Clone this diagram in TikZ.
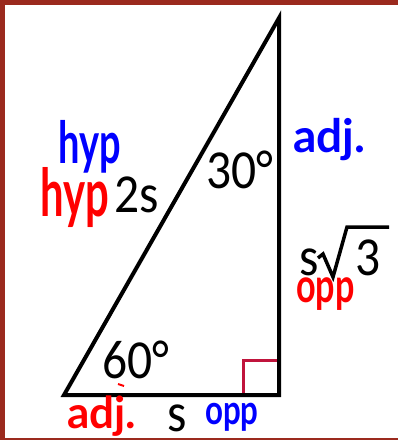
\documentclass[tikz,border=0pt]{standalone}
\usepackage{fontspec}
\setmainfont{Carlito}
\newfontfamily\handfont{Lato}
\definecolor{framered}{RGB}{155,42,30}
\definecolor{sqred}{RGB}{192,20,60}
\definecolor{inkblue}{RGB}{0,0,255}
\definecolor{inkred}{RGB}{255,0,0}
\newcommand{\blk}[1]{\scalebox{0.9}[1]{\fontsize{55}{60}\selectfont #1}}
\newcommand{\hnd}[4]{\scalebox{#2}[#3]{\handfont\bfseries\fontsize{#1}{#1}\selectfont #4}}
\begin{document}
\begin{tikzpicture}[x=1pt,y=-1pt,
  lbl/.style={anchor=base west,inner sep=0pt},
  hand/.style={anchor=base west,inner sep=0pt},
  side/.style={line width=4pt,line join=miter},
]
\useasboundingbox (0,0) rectangle (398,440);
\fill[white] (0,0) rectangle (398,440);
% frame
\fill[framered] (0,0) rectangle (398,5);
\fill[framered] (0,0) rectangle (5,440);
\fill[framered] (0,438) rectangle (398,440);
% triangle
\coordinate (A) at (64,395);
\coordinate (B) at (279,395);
\coordinate (C) at (279,18);
\draw[side] (A) -- (B) -- (C) -- cycle;
% right angle mark
\coordinate (S1) at (243,393);
\coordinate (S2) at (243,360);
\coordinate (S3) at (277,360);
\draw[sqred,line width=3pt] (S1) -- (S2) -- (S3);
% black labels
\node[lbl] (two) at (114,212) {\blk{2s}};
\node[lbl] (thirty) at (206,188) {\blk{30°}};
\node[lbl] (sixty) at (102,378) {\blk{60°}};
\node[lbl] (bs) at (167,431) {\blk{s}};
\node[lbl] (rs) at (299,275) {\blk{s}};
\node[lbl] (three) at (355,275) {\blk{3}};
\coordinate (R1) at (318,258);
\coordinate (R2) at (323,254);
\coordinate (R3) at (333,277);
\coordinate (R4) at (347,227);
\coordinate (R5) at (389,227);
\draw[line width=3.5pt,line join=miter] (R1) -- (R2) -- (R3) -- (R4) -- (R5);
% handwritten labels
\node[hand,text=inkblue] (hyp1) at (58,163) {\hnd{40}{0.95}{1.45}{hyp}};
\node[hand,text=inkred] (hyp2) at (40,216) {\hnd{44}{0.95}{1.5}{hyp}};
\node[hand,text=inkblue] (adj1) at (293,152) {\hnd{40}{1.15}{1.15}{adj.}};
\node[hand,text=inkred] (opp1) at (296,302) {\hnd{38}{0.9}{1.25}{opp}};
\node[hand,text=inkred] (adj2) at (67,428) {\hnd{40}{1.1}{1.1}{adj.}};
\node[hand,text=inkblue] (opp2) at (205,424) {\hnd{34}{0.92}{1.2}{opp}};
% small red mark
\coordinate (M1) at (118,384);
\coordinate (M2) at (124,386);
\draw[inkred,line width=2pt] (M1) -- (M2);
\end{tikzpicture}
\end{document}
